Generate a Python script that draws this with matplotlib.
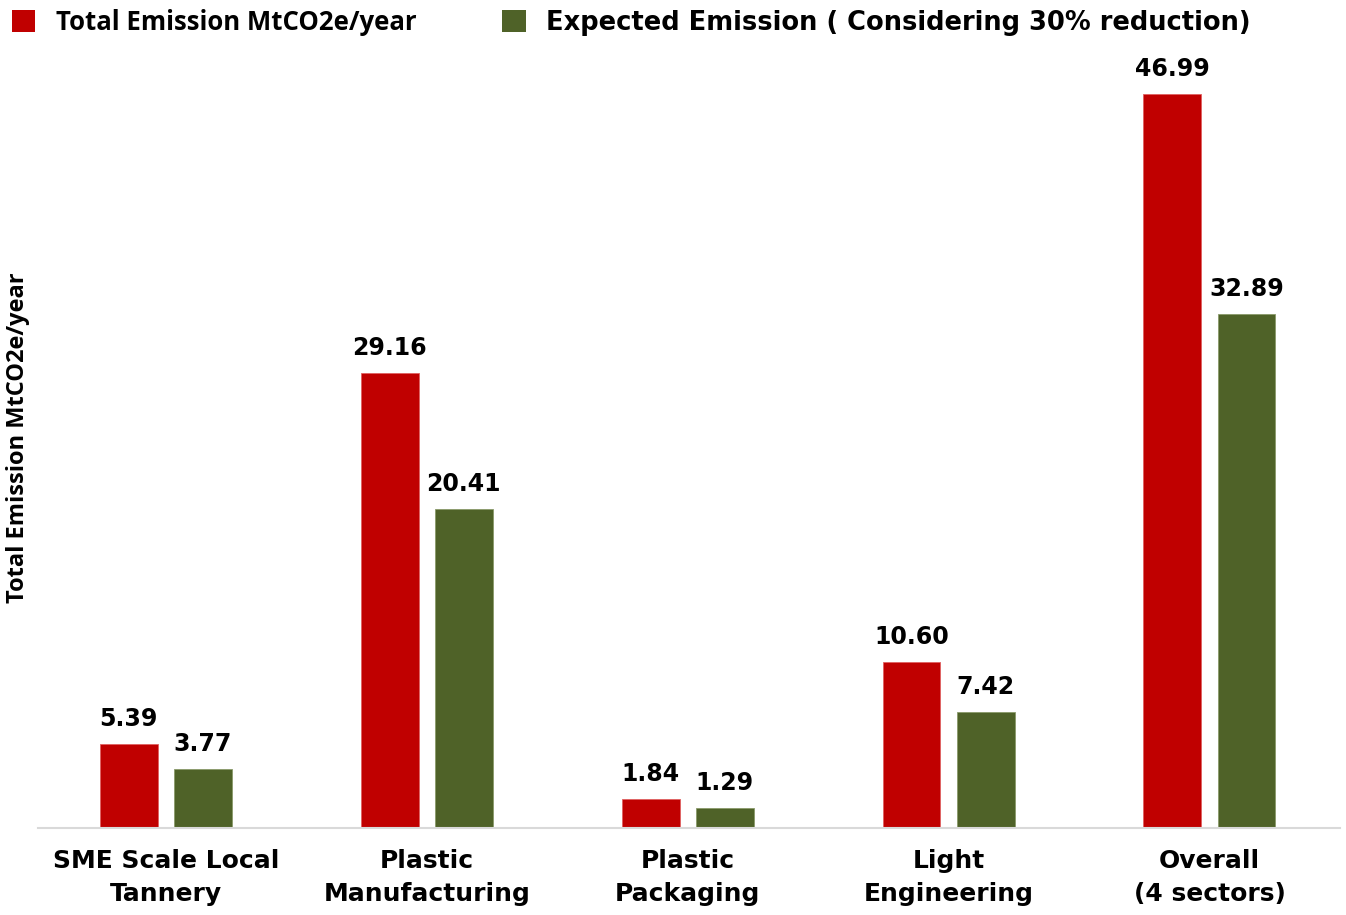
import matplotlib.pyplot as plt
from matplotlib.patches import Patch
from matplotlib.font_manager import FontProperties
import numpy as np

categories = ["SME Scale Local\nTannery", "Plastic\nManufacturing", "Plastic\nPackaging",
              "Light\nEngineering", "Overall\n(4 sectors)"]
total_emission = [5.39, 29.16, 1.84, 10.60, 46.99]
expected_emission = [3.77, 20.41, 1.29, 7.42, 32.89]
series_names = ["Total Emission MtCO2e/year", "Expected Emission ( Considering 30% reduction)"]

red = "#C00000"
green = "#4F6228"

fig = plt.figure(figsize=(13.46, 9.15), dpi=100)
ax = fig.add_axes([0.0282, 0.0951, 0.9673, 0.8535])

x = np.arange(len(categories))
off = 0.142
w = 0.222
b1 = ax.bar(x - off, total_emission, w, color=red, edgecolor="#E06060", linewidth=0.6)
b2 = ax.bar(x + off, expected_emission, w, color=green, edgecolor="#8A9A6A", linewidth=0.6)

for bars, vals in ((b1, total_emission), (b2, expected_emission)):
    for r, v in zip(bars, vals):
        ax.text(r.get_x() + r.get_width() / 2, v + 1.15, f"{v:.2f}", ha="center", va="baseline",
                fontsize=17, fontweight="bold", family="DejaVu Sans")

ax.set_xlim(-0.49, 4.5)
ax.set_ylim(0, 50)
ax.set_yticks([])
ax.set_xticks(x)
ax.set_xticklabels(categories, fontsize=18, fontweight="bold", family="DejaVu Sans", linespacing=1.5)
ax.tick_params(axis="x", length=0, pad=15)
for s in ["top", "right", "left"]:
    ax.spines[s].set_visible(False)
ax.spines["bottom"].set_color("#D9D9D9")
ax.spines["bottom"].set_linewidth(1.5)

fig.text(0.0135, 0.5215, "Total Emission MtCO2e/year", rotation=90, ha="center", va="center",
         fontsize=17, fontweight="bold", family="Open Sans")

handles = [Patch(facecolor=red), Patch(facecolor=green)]
leg = fig.legend(handles, series_names, loc="upper left", bbox_to_anchor=(12 / 1346, 1 - 9 / 915), ncol=2,
                 frameon=False, borderpad=0, borderaxespad=0, handlelength=0.9, handleheight=0.95,
                 handletextpad=0.8, columnspacing=3.35,
                 prop={"family": "Open Sans", "weight": "bold", "size": 18.5})
texts = leg.get_texts()
texts[1].set_fontproperties(FontProperties(family="DejaVu Sans", weight="bold", size=18.5))

fig.savefig("out.png", dpi=100)
